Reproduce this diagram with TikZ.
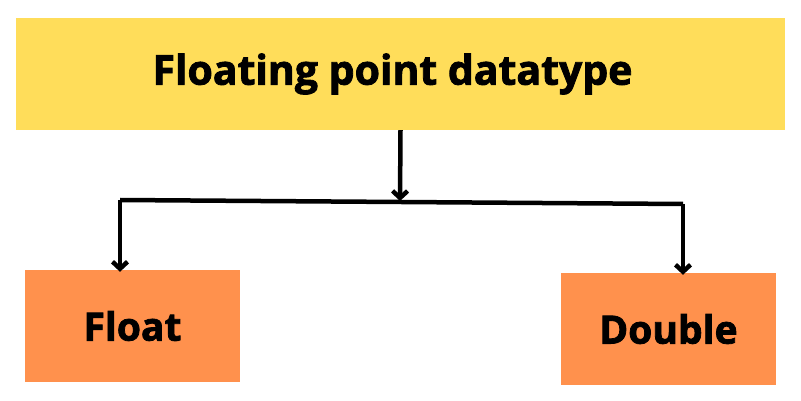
\documentclass[tikz,border=0pt]{standalone}
\usepackage{fontspec}
\setmainfont{Open Sans}[BoldFeatures={FakeBold=2}]
\usetikzlibrary{arrows.meta}

\definecolor{titleyellow}{RGB}{255,221,90}
\definecolor{typeorange}{RGB}{255,145,77}

\tikzset{
  titlebox/.style={fill=titleyellow, minimum width=769pt, minimum height=112pt,
    font=\fontsize{41}{41}\selectfont\bfseries},
  typebox/.style={fill=typeorange, minimum width=215pt, minimum height=112pt,
    font=\fontsize{39}{39}\selectfont\bfseries},
  link/.style={line width=4.5pt, -{Straight Barb[length=7pt,width=15pt,line width=4.5pt]}}
}

\begin{document}
\begin{tikzpicture}[x=1pt, y=-1pt]
  \useasboundingbox (0,0) rectangle (801,401);

  \node[titlebox] (Floating) at (400.5,74) {\hspace*{-16pt}Floating point datatype};
  \node[typebox]  (Float)    at (132.5,326) {Float};
  \node[typebox]  (Double)   at (668.5,329) {Double};

  \coordinate (Fork)  at (400,201);
  \coordinate (ForkL) at (120,200);
  \coordinate (ForkR) at (683,204);

  \draw[link] (Floating.south) -- (Fork);
  \draw[line width=4.5pt] (ForkL) -- (ForkR);
  \draw[link] (ForkL) -- ([yshift=-2pt]ForkL |- Float.north);
  \draw[link] (ForkR) -- ([yshift=-2pt]ForkR |- Double.north);
\end{tikzpicture}
\end{document}
